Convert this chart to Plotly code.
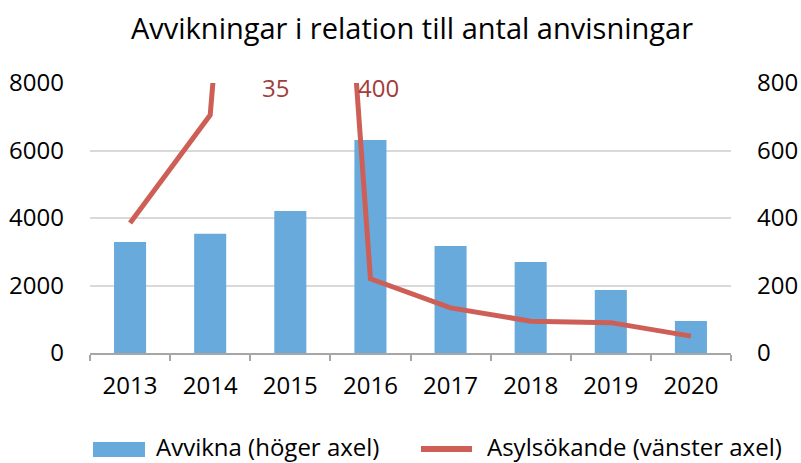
import plotly.graph_objects as go

years = ["2013", "2014", "2015", "2016", "2017", "2018", "2019", "2020"]
avvikna = [329, 353, 421, 631, 317, 270, 187, 95]            # right axis
asylsokande = [3852, 7049, 35400, 2199, 1336, 944, 900, 500]  # left axis
left_ticks = [0, 2000, 4000, 6000, 8000]
right_ticks = [0, 200, 400, 600, 800]
bar_name = "Avvikna (höger axel)"
line_name = "Asylsökande (vänster axel)"

FONT = "Open Sans"
BAR_C = "#68aadc"
LINE_C = "#cd5f57"
LBL_C = "#a23d3a"

# plot area in pixels (for placing the hand-made legend)
W, H = 801, 463
L, R, T, B = 90, 70, 83, 110
PW, PH = W - L - R, H - T - B


def px(x):
    return (x - L) / PW


def py(y):
    return (H - B - y) / PH


fig = go.Figure()
fig.add_trace(go.Bar(
    x=years, y=avvikna, name=bar_name, showlegend=False,
    marker=dict(color=BAR_C, line=dict(width=0)), width=0.4, yaxis="y",
))
fig.add_trace(go.Scatter(
    x=years, y=asylsokande, name=line_name, showlegend=False,
    mode="lines", line=dict(color=LINE_C, width=5), yaxis="y2",
))

fig.add_annotation(x=1.81, y=7880, xref="x", yref="y2", text="35", showarrow=False,
                   font=dict(family=FONT, size=24, color=LBL_C))
fig.add_annotation(x=3.1, y=7880, xref="x", yref="y2", text="400", showarrow=False,
                   font=dict(family=FONT, size=24, color=LBL_C))

# legend drawn by hand
fig.add_shape(type="rect", xref="paper", yref="paper",
              x0=px(93), x1=px(145), y0=py(457), y1=py(442),
              fillcolor=BAR_C, line=dict(width=0))
fig.add_shape(type="line", xref="paper", yref="paper",
              x0=px(421), x1=px(472), y0=py(449), y1=py(449),
              line=dict(color=LINE_C, width=6))
fig.add_annotation(x=px(154), y=py(446), xref="paper", yref="paper", text=bar_name,
                   showarrow=False, xanchor="left", yanchor="middle",
                   font=dict(family=FONT, size=24, color="black"))
fig.add_annotation(x=px(485), y=py(446), xref="paper", yref="paper", text=line_name,
                   showarrow=False, xanchor="left", yanchor="middle",
                   font=dict(family=FONT, size=24, color="black"))

fig.update_layout(
    width=W, height=H,
    margin=dict(l=L, r=R, t=T, b=B, autoexpand=False),
    paper_bgcolor="white", plot_bgcolor="white",
    font=dict(family=FONT, size=24, color="black"),
    title=dict(text="Avvikningar i relation till antal anvisningar", x=412 / W, xanchor="center",
               y=1 - 29 / H, yanchor="middle", font=dict(family=FONT, size=29, color="black")),
    showlegend=False,
    xaxis=dict(
        type="category", showline=True, linecolor="#a6a6a6", linewidth=2,
        ticks="outside", tickson="boundaries", ticklen=6, tickcolor="#a6a6a6", tickwidth=2,
        showgrid=False, ticklabelstandoff=10, automargin=False,
    ),
    yaxis=dict(
        range=[0, 800], tickvals=right_ticks, side="right",
        showgrid=True, gridcolor="#d9d9d9", gridwidth=2,
        zeroline=False, showline=False, ticks="", ticklabelstandoff=25, automargin=False,
    ),
    yaxis2=dict(
        range=[0, 8000], tickvals=left_ticks, side="left", overlaying="y",
        showgrid=False, zeroline=False, showline=False, ticks="", ticklabelstandoff=25,
        automargin=False,
    ),
)

fig.write_html(
    "out.html",
    config={"displayModeBar": False},
    post_script="document.body.style.margin='0';document.body.style.overflow='hidden';",
)
